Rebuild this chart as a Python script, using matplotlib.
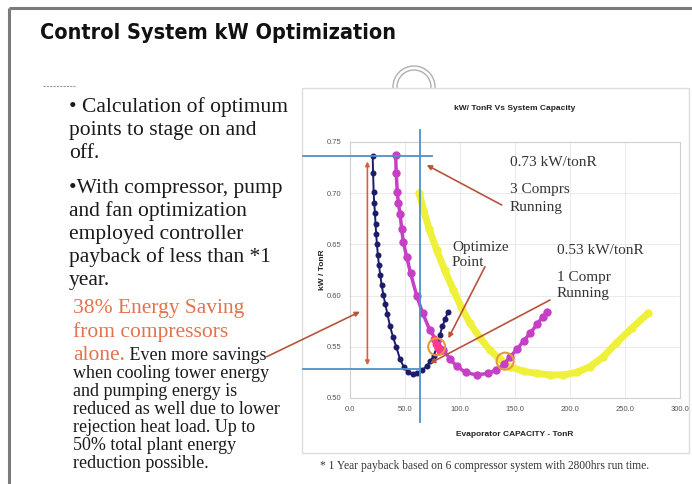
import matplotlib
matplotlib.use("Agg")
import matplotlib.pyplot as plt
from matplotlib.patches import Rectangle, Circle, FancyArrowPatch

# ---------------- data ----------------
navy_x = [20.6, 21.0, 21.5, 22.0, 22.7, 23.2, 23.8, 24.5, 25.3, 26.3, 27.5, 28.8, 30.3, 32.0,
          34.0, 36.4, 39.0, 42.0, 45.5, 49.0, 53.0, 57.0, 61.0, 65.0, 69.7, 73.0, 76.0, 79.0,
          81.8, 84.0, 86.5, 89.0]
navy_y = [0.736, 0.720, 0.701, 0.690, 0.681, 0.670, 0.660, 0.650, 0.640, 0.630, 0.620, 0.610,
          0.601, 0.592, 0.582, 0.570, 0.560, 0.550, 0.538, 0.530, 0.525, 0.523, 0.524, 0.527,
          0.531, 0.536, 0.541, 0.550, 0.562, 0.570, 0.577, 0.584]
mag_x = [41.5, 42.0, 43.0, 44.0, 45.5, 47.0, 48.5, 51.5, 55.0, 60.6, 66.0, 72.7, 78.8, 84.8,
         91.0, 97.0, 105.0, 115.0, 125.0, 133.0, 140.0, 145.5, 152.0, 158.0, 163.6, 170.0,
         175.0, 179.0]
mag_y = [0.737, 0.720, 0.701, 0.690, 0.680, 0.665, 0.652, 0.638, 0.622, 0.600, 0.583, 0.566,
         0.556, 0.547, 0.538, 0.531, 0.525, 0.5225, 0.524, 0.527, 0.533, 0.540, 0.548, 0.556,
         0.563, 0.572, 0.579, 0.584]
yel_x = [63.0, 66.7, 72.0, 78.8, 86.0, 94.0, 101.0, 109.0, 118.0, 127.0, 136.0, 145.5, 158.0,
         170.0, 182.0, 194.0, 206.0, 218.0, 230.0, 242.0, 256.0, 271.0]
yel_y = [0.700, 0.684, 0.665, 0.6445, 0.625, 0.6055, 0.589, 0.573, 0.559, 0.547, 0.538, 0.5305,
         0.526, 0.524, 0.5225, 0.5225, 0.525, 0.5305, 0.540, 0.5535, 0.568, 0.5827]
circle_x = [78.8, 141.0]
circle_y = [0.550, 0.536]
pink_x = [76.0, 78.0, 80.0, 82.0]
pink_y = [0.558, 0.553, 0.549, 0.546]

kw_high = 0.736
kw_low = 0.528
opt_capacity = 63.6
arrow_x = 15.8

x_ticks = [0, 50, 100, 150, 200, 250, 300]
y_ticks = [0.50, 0.55, 0.60, 0.65, 0.70, 0.75]

title = "Control System kW Optimization"
chart_title = "kW/ TonR Vs System Capacity"
x_label = "Evaporator CAPACITY - TonR"
y_label = "kW / TonR"

bullet_lines = ["\u2022 Calculation of optimum", "points to stage on and", "off.",
                "\u2022With compressor, pump", "and fan optimization", "employed controller",
                "payback of less than *1", "year."]
bullet_y = [107, 130, 153, 188, 211, 234, 257, 280]
orange_lines = ["38% Energy Saving", "from compressors"]
orange_y = [309, 332]
small_lines = ["when cooling tower energy", "and pumping energy is",
               "reduced as well due to lower", "rejection heat load. Up to",
               "50% total plant energy", "reduction possible."]
small_y = [374, 392, 410, 428, 446, 464]
footnote = "* 1 Year payback based on 6 compressor system with 2800hrs run time."

W, H = 692, 484
fig = plt.figure(figsize=(W / 100, H / 100), dpi=100)
fig.patch.set_facecolor("white")

serif = ["Liberation Serif", "DejaVu Serif"]
sans = ["Liberation Sans", "DejaVu Sans"]

# background overlay (pixel coords)
bg = fig.add_axes([0, 0, 1, 1], zorder=0)
bg.set_xlim(0, W)
bg.set_ylim(H, 0)
bg.axis("off")

bg.plot([9, W], [7.5, 7.5], color="#7a7a7a", lw=2.2, solid_capstyle="butt")
bg.plot([9, 9], [7.5, H], color="#7a7a7a", lw=2.2, solid_capstyle="butt")
bg.plot([43, 75], [86, 86], color="#999999", lw=0.8, ls=(0, (2, 1)))

bg.text(40, 33, title, family=["DejaVu Sans"], fontweight="bold",
        fontsize=15.5, va="center", ha="left", color="#111111", stretch="condensed")

for c_r in (21, 17):
    bg.add_patch(Circle((414, 87), c_r, fill=False, ec="#b0b0b0", lw=1.0))
bg.add_patch(Rectangle((302, 88), 387, 365, fc="white", ec="#dddddd", lw=1.0, zorder=3))

for s, y in zip(bullet_lines, bullet_y):
    bg.text(69, y, s, family=serif, fontsize=15.5, va="center", ha="left", color="#1a1a1a")
for s, y in zip(orange_lines, orange_y):
    bg.text(73, y, s, family=serif, fontsize=15.5, va="center", ha="left", color="#e2734f")
t_alone = bg.text(73, 355, "alone.", family=serif, fontsize=15.5, va="center", ha="left",
                  color="#e2734f")
bg.annotate(" Even more savings", xy=(1, 0.22), xycoords=t_alone, family=serif, fontsize=13,
            va="baseline", ha="left", color="#1a1a1a")
for s, y in zip(small_lines, small_y):
    bg.text(73, y, s, family=serif, fontsize=13, va="center", ha="left", color="#1a1a1a")

bg.text(485, 466, footnote, family=serif, fontsize=8.3, va="center", ha="center",
        color="#333333", zorder=4)

# ---------------- chart ----------------
ax = fig.add_axes([350 / W, 1 - 398 / H, 330 / W, 256 / H], zorder=5)
ax.set_xlim(0, 300)
ax.set_ylim(0.50, 0.75)
ax.set_xticks(x_ticks)
ax.set_yticks(y_ticks)
ax.set_xticklabels([f"{v:.1f}" for v in x_ticks], fontsize=5.5, color="#555555", family=sans)
ax.set_yticklabels([f"{v:.2f}" for v in y_ticks], fontsize=5.5, color="#555555", family=sans)
ax.tick_params(length=0, pad=6)
ax.grid(True, color="#e6e6e6", lw=0.6)
for sp in ax.spines.values():
    sp.set_color("#cfcfcf")
    sp.set_linewidth(0.8)
ax.set_axisbelow(True)

ax.plot(yel_x, yel_y, color="#eef03a", lw=5, marker="o", ms=5, zorder=3,
        solid_capstyle="round")
ax.plot(mag_x, mag_y, color="#c63fc6", lw=2.5, marker="o", ms=5, mec="#c63fc6", zorder=4)
ax.plot(navy_x, navy_y, color="#1c1c6b", lw=1.4, marker="o", ms=3.3, zorder=5)
ax.scatter(pink_x, pink_y, s=22, color="#ff3a8c", zorder=6)
ax.scatter(circle_x, circle_y, s=150, facecolors="none", edgecolors="#e39a3a", lw=1.5,
           zorder=7)

blue = "#4d92c7"
ax.plot([-42.7, 74.5], [kw_high, kw_high], color=blue, lw=1.3, clip_on=False, zorder=6)
ax.plot([-42.7, opt_capacity], [kw_low, kw_low], color=blue, lw=1.3, clip_on=False, zorder=6)
ax.plot([opt_capacity, opt_capacity], [0.7617, 0.4766], color=blue, lw=1.3, clip_on=False,
        zorder=6)
ax.annotate("", xy=(arrow_x, 0.731), xytext=(arrow_x, 0.532),
            arrowprops=dict(arrowstyle="<|-|>", color="#d9603c", lw=1.2,
                            mutation_scale=6, shrinkA=0, shrinkB=0), zorder=7)

ax.set_title(chart_title, fontsize=6, fontweight="bold", family=sans, pad=23, color="#222222")
ax.set_xlabel(x_label, fontsize=6, fontweight="bold", family=sans, labelpad=13, color="#222222")
ax.set_ylabel(y_label, fontsize=6, fontweight="bold", family=sans, labelpad=1, color="#222222")

# ---------------- top overlay for annotations ----------------
top = fig.add_axes([0, 0, 1, 1], zorder=10)
top.set_xlim(0, W)
top.set_ylim(H, 0)
top.axis("off")
top.patch.set_alpha(0)

tc = "#333333"
ann = [("0.73 kW/tonR", 510, 162), ("3 Comprs", 510, 190), ("Running", 510, 207),
       ("Optimize", 452, 247), ("Point", 452, 263), ("0.53 kW/tonR", 557, 250),
       ("1 Compr", 557, 277), ("Running", 557, 293)]
for s, x, y in ann:
    top.text(x, y, s, family=serif, fontsize=11, va="center", ha="left", color=tc)

ac = "#b9533a"
for (x0, y0, x1, y1) in [(501.7, 205, 426.7, 165), (485, 266.7, 448.3, 338.3),
                         (550, 300, 430, 363.3), (266.7, 356.7, 360, 311.7)]:
    top.add_patch(FancyArrowPatch((x0, y0), (x1, y1), arrowstyle="-|>", mutation_scale=7,
                                  color=ac, lw=1.2, shrinkA=0, shrinkB=0))

fig.savefig("out.png", dpi=100)
